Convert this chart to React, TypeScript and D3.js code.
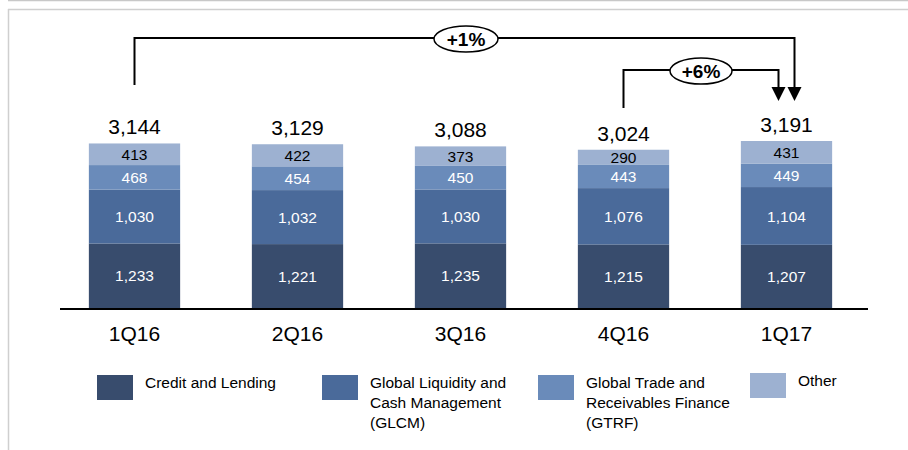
import * as d3 from "d3";

const quarters = ["1Q16", "2Q16", "3Q16", "4Q16", "1Q17"];
const creditLending = [1233, 1221, 1235, 1215, 1207];
const glcm = [1030, 1032, 1030, 1076, 1104];
const gtrf = [468, 454, 450, 443, 449];
const other = [413, 422, 373, 290, 431];
const totals = [3144, 3129, 3088, 3024, 3191];

const seriesNames = ["Credit and Lending", "GLCM", "GTRF", "Other"];
const legendLabels = [
  ["Credit and Lending"],
  ["Global Liquidity and", "Cash Management", "(GLCM)"],
  ["Global Trade and", "Receivables Finance", "(GTRF)"],
  ["Other"],
];
const colours = ["#384c6d", "#4a6a9a", "#6a8bba", "#9db1d1"];
const labelColours = ["#fff", "#fff", "#fff", "#000"];

// growth brackets: from -> to index
const growth = [
  { from: 0, to: 4, label: "+1%" },
  { from: 3, to: 4, label: "+6%" },
];

const font = "'Liberation Sans', Arial, sans-serif";

export default function App() {
  const width = 908;
  const height = 450;
  const baseY = 308;

  const x = d3
    .scaleBand()
    .domain(quarters)
    .range([53, 868])
    .paddingInner(0.44)
    .paddingOuter(0.22);

  const y = d3.scaleLinear().domain([0, 3191]).range([baseY, 141]);

  const rows = quarters.map((q, i) => ({
    q,
    "Credit and Lending": creditLending[i],
    GLCM: glcm[i],
    GTRF: gtrf[i],
    Other: other[i],
  }));
  const stacked = d3.stack<any>().keys(seriesNames)(rows);

  const cx = (i: number) => (x(quarters[i]) as number) + x.bandwidth() / 2;

  // bracket geometry
  const outerY = 38;
  const innerY = 70;
  const outer = growth[0];
  const inner = growth[1];
  const outerEndX = cx(outer.to) + 8;
  const innerEndX = cx(inner.to) - 8;
  const arrowTip = 101;
  const arrowH = 14;
  const arrowW = 14;

  const arrowHead = (ax: number) =>
    `M${ax - arrowW / 2},${arrowTip - arrowH} L${ax + arrowW / 2},${arrowTip - arrowH} L${ax},${arrowTip} Z`;

  const legendX = [97, 322, 538, 750];

  return (
    <svg
      width={width}
      height={height}
      style={{ position: "absolute", left: 0, top: 0, fontFamily: font }}
    >
      <rect width={width} height={height} fill="#fff" />
      {/* frame */}
      <line x1={8} x2={908} y1={0.5} y2={0.5} stroke="#c8c8c8" strokeWidth={1.5} />
      <line x1={8} x2={908} y1={9.5} y2={9.5} stroke="#cfcfcf" strokeWidth={1.5} />
      <line x1={8.5} x2={8.5} y1={9} y2={450} stroke="#cfcfcf" strokeWidth={1.5} />

      {/* bars */}
      {stacked.map((s, si) => (
        <g key={s.key}>
          {s.map((d, i) => {
            const y0 = y(d[0]);
            const y1 = y(d[1]);
            return (
              <g key={i}>
                <rect
                  x={x(quarters[i])}
                  y={y1}
                  width={x.bandwidth()}
                  height={y0 - y1}
                  fill={colours[si]}
                />
                <text
                  x={cx(i)}
                  y={(y0 + y1) / 2}
                  dy="0.36em"
                  textAnchor="middle"
                  fontSize={15.5}
                  fill={labelColours[si]}
                >
                  {d3.format(",")(d[1] - d[0])}
                </text>
              </g>
            );
          })}
        </g>
      ))}

      {/* totals */}
      {totals.map((t, i) => (
        <text
          key={i}
          x={cx(i)}
          y={y(stacked[3][i][1]) - 9}
          textAnchor="middle"
          fontSize={21}
          fill="#000"
        >
          {d3.format(",")(t)}
        </text>
      ))}

      {/* axis */}
      <line x1={60} x2={868} y1={309} y2={309} stroke="#000" strokeWidth={2.2} />
      {quarters.map((q, i) => (
        <text key={q} x={cx(i)} y={341} textAnchor="middle" fontSize={21} fill="#000">
          {q}
        </text>
      ))}

      {/* outer bracket */}
      <path
        d={`M${cx(outer.from)},85 V${outerY} H${outerEndX} V${arrowTip - arrowH}`}
        fill="none"
        stroke="#000"
        strokeWidth={2}
      />
      <path d={arrowHead(outerEndX)} fill="#000" />
      <ellipse cx={466} cy={outerY + 1} rx={32} ry={13} fill="#fff" stroke="#000" strokeWidth={1.5} />
      <text x={466} y={outerY + 1} dy="0.36em" textAnchor="middle" fontSize={19} fontWeight="bold">
        {outer.label}
      </text>

      {/* inner bracket */}
      <path
        d={`M${cx(inner.from)},108 V${innerY} H${innerEndX} V${arrowTip - arrowH}`}
        fill="none"
        stroke="#000"
        strokeWidth={2}
      />
      <path d={arrowHead(innerEndX)} fill="#000" />
      <ellipse cx={701} cy={innerY + 1} rx={31} ry={13} fill="#fff" stroke="#000" strokeWidth={1.5} />
      <text x={701} y={innerY + 1} dy="0.36em" textAnchor="middle" fontSize={19} fontWeight="bold">
        {inner.label}
      </text>

      {/* legend */}
      {legendLabels.map((lines, i) => (
        <g key={i} transform={`translate(${legendX[i]},${i === 3 ? 373 : 375})`}>
          <rect width={36} height={25} fill={colours[i]} />
          {lines.map((l, li) => (
            <text key={li} x={48} y={13 + li * 20} fontSize={15.5} fill="#000">
              {l}
            </text>
          ))}
        </g>
      ))}
    </svg>
  );
}
